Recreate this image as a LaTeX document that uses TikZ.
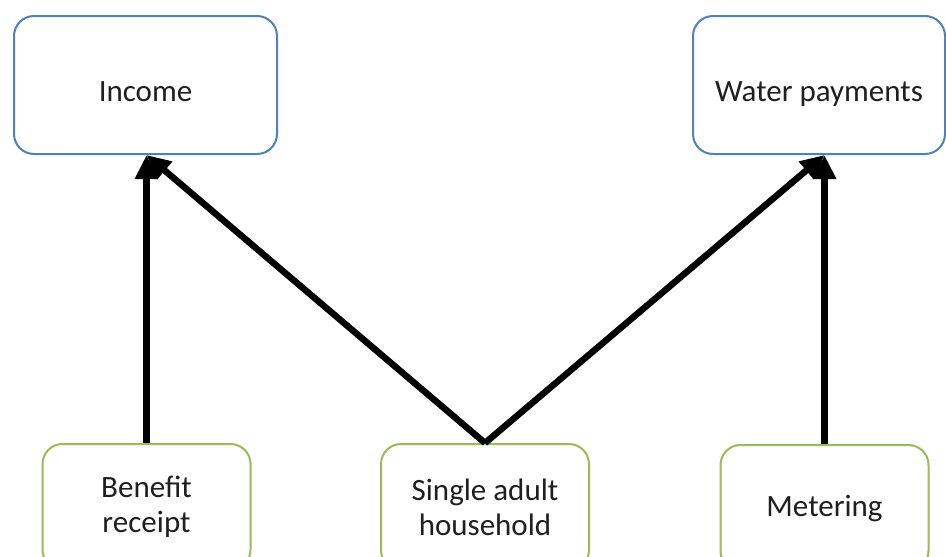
\documentclass[tikz,border=0pt]{standalone}
\usepackage{fontspec}
\setmainfont{Carlito}
\usetikzlibrary{arrows.meta}
\definecolor{boxblue}{RGB}{79,129,189}
\definecolor{boxgreen}{RGB}{155,187,89}
\begin{document}
\begin{tikzpicture}[x=1pt,y=-1pt,
  outbox/.style={draw=boxblue,line width=2pt,rounded corners=20pt,fill=white,
    minimum width=263pt,minimum height=138pt,align=center,
    text height=32pt,text depth=0pt,
    font=\fontsize{31}{35}\selectfont,text=black!88},
  inbox/.style={draw=boxgreen,line width=2pt,rounded corners=20pt,fill=white,
    minimum width=208pt,minimum height=126pt,align=center,
    font=\fontsize{31}{35}\selectfont,text=black!88},
  link/.style={line width=6.5pt,-{Triangle[length=24pt,width=22pt]}}]
\useasboundingbox (0,0) rectangle (946,557);
\clip (0,0) rectangle (946,557);
\fill[white] (0,0) rectangle (946,557);
\node[outbox] (income) at (145.5,85) {Income};
\node[outbox,minimum width=252pt] (water) at (819,85) {Water payments};
\node[inbox] (benefit) at (146.5,507) {Benefit\\receipt};
\node[inbox] (single) at (485,507) {Single adult\\household};
\node[inbox] (meter) at (824.5,508) {Metering};
\coordinate (incpt) at (benefit.north |- income.south);
\coordinate (watpt) at (meter.north |- water.south);
\draw[link] (benefit.north) -- (incpt);
\draw[link] (meter.north) -- (watpt);
\draw[link,line join=miter] (single.north) -- (incpt);
\draw[link] (single.north) -- (watpt);
\end{tikzpicture}
\end{document}
